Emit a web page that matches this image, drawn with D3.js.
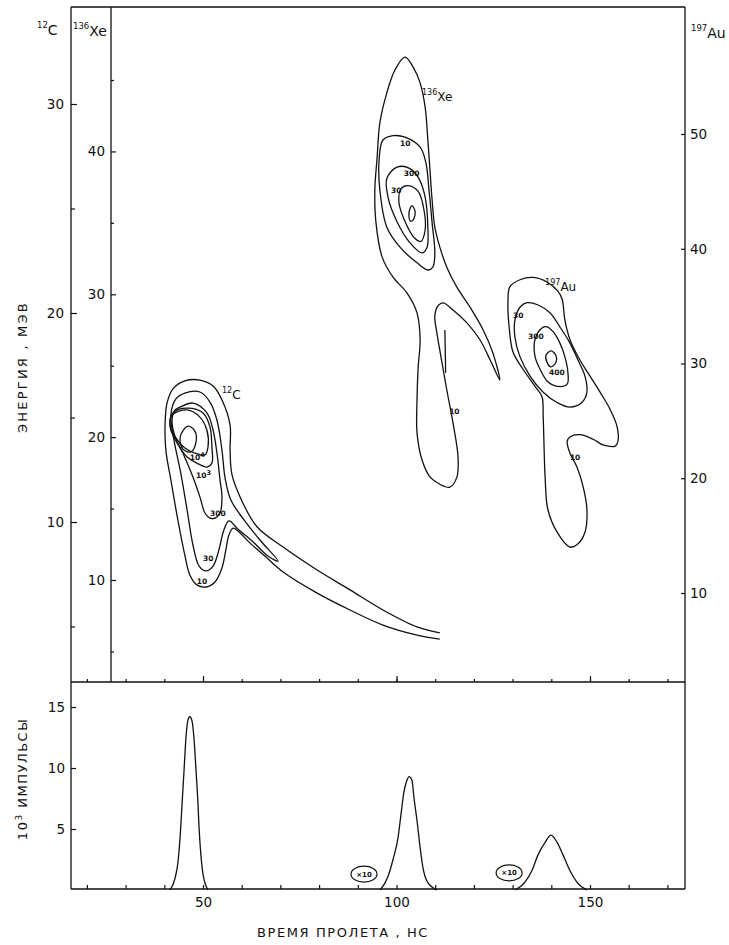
<!DOCTYPE html>
<html><head><meta charset="utf-8">
<script src="https://cdn.jsdelivr.net/npm/d3@7"></script>
<style>
body{margin:0;background:#fff;}
svg text{font-family:"DejaVu Sans",sans-serif;fill:#111;}
</style></head><body>
<svg id="chart" width="729" height="945"></svg>
<script>
// ---------- data ----------
const cTicks = [10, 20, 30];
const cMinor = [5, 15, 25];
const xeTicks = [10, 20, 30, 40];
const xeMinor = [5, 15, 25, 35, 45];
const auTicks = [10, 20, 30, 40, 50];
const timeLabels = [50, 100, 150];
const timeTicks = [20, 30, 40, 50, 60, 70, 80, 90, 100, 110, 120, 130, 140, 150, 160, 170];
const countTicks = [5, 10, 15];

// contour lines: [time ns, energy MeV] (each on its own isotope's energy scale)
const c10 = [[111.2,4.69],[105.3,4.98],[96.5,5.79],[88.0,6.75],[79.5,7.70],[70.7,8.80],[64.0,9.76],[60.3,10.91],[57.5,12.25],[57.0,13.44],[57.0,14.64],[54.9,15.84],[52.6,16.51],[49.2,16.79],[45.3,16.75],[42.2,16.36],[40.7,15.69],[40.2,14.64],[40.4,13.44],[41.7,12.01],[43.5,10.10],[45.3,8.42],[46.6,7.46],[48.4,6.99],[50.8,6.89],[53.1,7.13],[54.9,7.80],[55.9,8.66],[56.7,9.38],[57.8,9.71],[59.6,9.47],[62.1,9.00],[66.0,8.37],[70.7,7.61],[79.5,6.60],[88.0,5.79],[96.5,5.07],[105.3,4.59],[111.2,4.40]];
const c30 = [[45.3,16.17],[49.2,16.22],[51.8,15.74],[53.6,14.88],[54.9,13.44],[55.7,12.11],[57.2,11.05],[60.6,10.10],[64.7,9.14],[69.4,8.13],[66.8,8.37],[62.7,9.09],[59.0,9.67],[56.7,10.05],[55.4,9.62],[54.1,8.66],[52.6,7.89],[50.8,7.66],[49.0,7.89],[47.4,8.90],[45.9,10.57],[44.1,12.49],[42.5,13.92],[41.7,15.12],[43.0,15.89]];
const c300 = [[44.1,15.50],[47.4,15.69],[51.0,15.22],[52.6,14.40],[53.6,13.30],[54.4,12.01],[54.9,11.20],[54.4,10.43],[53.1,10.19],[51.8,10.19],[50.5,10.43],[49.2,11.20],[47.4,12.15],[44.8,13.30],[42.8,14.07],[42.0,14.88],[42.8,15.36]];
const c1e3 = [[42.2,15.22],[45.9,15.45],[50.0,15.22],[51.8,14.55],[52.3,13.59],[52.3,12.82],[51.0,12.63],[48.4,12.82],[45.9,13.11],[43.3,13.78],[41.5,14.55]];
const c1e4 = [[42.0,15.12],[45.9,15.36],[49.2,15.02],[51.0,14.40],[51.3,13.59],[50.5,13.21],[47.9,13.30],[45.3,13.54],[42.8,14.07],[41.5,14.64]];
const cCore = [[46.1,14.59],[47.9,14.35],[48.2,13.83],[46.9,13.35],[44.8,13.49],[44.1,14.07]];

const xe10 = [[102.2,46.6],[104.3,45.9],[106.1,44.8],[107.4,43.1],[108.1,40.8],[108.7,38.5],[109.2,36.6],[109.9,34.7],[111.2,33.3],[113.0,31.9],[115.6,30.5],[119.0,29.1],[122.4,27.5],[124.9,25.9],[126.7,24.0],[124.2,25.4],[121.6,26.8],[118.2,28.0],[114.6,28.9],[112.0,29.4],[110.5,29.1],[109.9,28.4],[110.5,27.2],[111.5,25.6],[113.0,23.3],[114.6,21.0],[115.9,18.6],[115.6,17.2],[113.8,16.5],[111.2,16.7],[108.7,17.2],[106.6,18.4],[105.3,20.3],[105.3,22.6],[105.6,24.9],[106.1,26.8],[105.3,28.7],[102.7,30.1],[99.1,31.2],[96.3,32.6],[94.7,35.0],[94.4,37.3],[95.0,39.6],[95.7,42.0],[97.5,44.1],[99.6,45.7]];
const xeStem = [[112.5,27.5],[112.6,26.0],[112.7,24.5]];
const xe30 = [[96.5,40.8],[99.1,41.1],[102.2,41.0],[106.1,40.3],[107.6,39.2],[108.4,37.3],[109.2,35.0],[109.9,32.9],[109.4,31.9],[108.1,31.7],[105.3,32.2],[100.9,33.3],[97.5,34.7],[95.7,37.3],[95.5,39.4]];
const xe300 = [[100.1,38.9],[103.5,38.8],[105.8,38.1],[107.4,36.8],[108.1,34.7],[107.9,33.3],[106.6,32.9],[103.5,33.6],[100.1,35.1],[97.8,36.8],[97.5,38.1]];
const xe3000 = [[103.0,37.6],[105.6,37.2],[107.1,35.9],[107.4,34.5],[106.3,33.7],[104.8,33.9],[102.2,35.1],[100.6,36.5],[101.2,37.4]];
const xeCore = [[104.0,36.2],[104.8,35.8],[104.5,35.3],[103.7,35.1],[103.2,35.5],[103.5,36.0]];

const au10 = [[129.3,36.7],[128.8,35.3],[129.1,33.2],[130.1,31.0],[132.7,29.5],[135.8,28.0],[137.6,27.1],[137.9,25.4],[138.1,23.1],[138.4,20.1],[139.1,17.3],[141.5,15.3],[144.8,14.0],[146.6,14.2],[148.7,15.3],[149.2,17.3],[148.2,19.3],[146.6,21.0],[144.8,22.2],[144.1,23.2],[144.8,23.6],[147.4,23.8],[150.8,23.4],[153.4,22.9],[156.5,22.8],[157.2,23.2],[157.0,24.5],[155.2,26.0],[152.6,27.5],[150.0,28.9],[147.4,30.3],[144.8,32.1],[143.5,33.8],[142.8,35.6],[141.7,36.3],[138.9,37.1],[135.3,37.5],[131.9,37.3]];
const au30 = [[131.9,34.9],[130.6,33.8],[130.6,32.3],[131.9,30.6],[134.5,28.9],[137.9,27.5],[141.5,26.6],[144.8,26.2],[147.9,26.6],[149.2,27.5],[148.7,28.9],[146.9,30.3],[144.8,31.8],[142.2,33.2],[139.7,34.4],[136.6,35.1],[133.7,35.3]];
const au300 = [[137.6,33.1],[135.8,32.1],[135.8,30.6],[137.1,29.5],[139.1,28.4],[141.7,28.0],[144.1,28.2],[144.3,29.2],[143.5,30.6],[142.2,31.8],[140.4,32.8],[138.9,33.2]];
const au400 = [[139.9,31.1],[141.2,30.7],[141.2,30.1],[139.9,29.7],[138.9,30.1],[138.6,30.7]];

// time-of-flight spectra: [time ns, 10^3 counts]
const peakC = [[41.5,0.0],[42.8,1.0],[43.5,2.2],[44.1,4.4],[44.6,7.1],[45.1,9.8],[45.6,12.5],[46.1,13.9],[46.6,14.2],[47.2,13.8],[47.7,12.3],[48.2,9.8],[48.7,7.1],[49.0,5.0],[49.5,2.7],[50.0,1.3],[51.3,0.0]];
const peakXe = [[95.8,0.0],[97.8,1.1],[99.1,2.5],[100.4,4.3],[101.2,6.3],[101.9,8.0],[102.7,9.0],[103.2,9.3],[104.0,9.0],[104.5,7.6],[105.3,5.7],[106.1,3.5],[106.8,1.9],[108.1,0.6],[110.5,0.0]];
const peakAu = [[130.6,0.0],[133.2,0.65],[135.0,1.6],[136.6,2.9],[138.4,3.9],[139.9,4.5],[141.5,3.9],[143.0,2.9],[144.8,1.6],[146.6,0.65],[149.2,0.0]];
const scaleMarks = [[91.6,1.3,"×10"],[129.1,1.4,"×10"]];

// contour annotations: [text, superscript, time, energy, scale]
const contourLabels = [
  ["10","4",46.6,12.97,"c"],["10","3",48.2,12.11,"c"],["300","",51.8,10.29,"c"],["30","",50.0,8.13,"c"],["10","",48.4,7.03,"c"],
  ["10","",100.9,40.4,"xe"],["300","",101.9,38.3,"xe"],["30","",98.6,37.1,"xe"],["10","",113.6,21.6,"xe"],
  ["30","",130.1,34.0,"au"],["300","",134.0,32.1,"au"],["400","",139.4,29.0,"au"],["10","",144.8,21.6,"au"]
];
const isotopeLabels = [["12","C",54.9,15.93,"c"],["136","Xe",106.6,43.6,"xe"],["197","Au",138.4,36.4,"au"]];

// ---------- layout ----------
const L_OUT = 71, L_IN = 111, R = 685, TOP = 7, MID = 682, BOT = 889;
const ink = "#111";

const x = d3.scaleLinear().domain([50,150]).range([203,590]);
const yC = d3.scaleLinear().domain([10,30]).range([522,104]);
const yXe = d3.scaleLinear().domain([10,45]).range([580,80]);
const yAu = d3.scaleLinear().domain([10,50]).range([593,134]);
const yN = d3.scaleLinear().domain([0,15]).range([890,707]);
const yS = {c:yC, xe:yXe, au:yAu};

const svg = d3.select("#chart");

// frame
[[L_OUT,TOP,L_OUT,BOT],[L_IN,TOP,L_IN,MID],[R,TOP,R,BOT],[L_OUT,TOP,R,TOP],[L_OUT,MID,R,MID],[L_OUT,BOT,R,BOT]].forEach(s=>{
  svg.append("line").attr("x1",s[0]).attr("y1",s[1]).attr("x2",s[2]).attr("y2",s[3]).attr("stroke",ink).attr("stroke-width",1.3);
});

function styleAxis(g, fs){
  g.select(".domain").remove();
  g.selectAll(".tick line").attr("stroke",ink).attr("stroke-width",1.2);
  g.selectAll(".tick text").attr("font-size",fs).attr("fill",ink);
}
// energy axes
styleAxis(svg.append("g").attr("transform",`translate(${L_OUT},0)`).call(d3.axisLeft(yC).tickValues(cTicks).tickSizeInner(-6).tickSizeOuter(0).tickPadding(7)),13.5);
styleAxis(svg.append("g").attr("transform",`translate(${L_OUT},0)`).call(d3.axisLeft(yC).tickValues(cMinor).tickSizeInner(-4).tickSizeOuter(0).tickFormat("")),13.5);
styleAxis(svg.append("g").attr("transform",`translate(${L_IN},0)`).call(d3.axisLeft(yXe).tickValues(xeTicks).tickSizeInner(-5).tickSizeOuter(0).tickPadding(6)),13.5);
styleAxis(svg.append("g").attr("transform",`translate(${L_IN},0)`).call(d3.axisLeft(yXe).tickValues(xeMinor).tickSizeInner(-3).tickSizeOuter(0).tickFormat("")),13.5);
styleAxis(svg.append("g").attr("transform",`translate(${R},0)`).call(d3.axisRight(yAu).tickValues(auTicks).tickSizeInner(-4).tickSizeOuter(0).tickPadding(5)),13.5);
// time axes
styleAxis(svg.append("g").attr("transform",`translate(0,${MID})`).call(d3.axisBottom(x).tickValues(timeTicks).tickSizeInner(-3).tickSizeOuter(0).tickFormat("")),13);
styleAxis(svg.append("g").attr("transform",`translate(0,${MID})`).call(d3.axisBottom(x).tickValues(timeLabels).tickSizeInner(-6).tickSizeOuter(0).tickFormat("")),13);
styleAxis(svg.append("g").attr("transform",`translate(0,${BOT})`).call(d3.axisBottom(x).tickValues(timeTicks).tickSizeInner(-4).tickSizeOuter(0).tickPadding(8).tickFormat(d=>timeLabels.includes(d)?d:"")),13.5);
// counts axis
styleAxis(svg.append("g").attr("transform",`translate(${L_OUT},0)`).call(d3.axisLeft(yN).tickValues(countTicks).tickSizeInner(-5).tickSizeOuter(0).tickPadding(6)),13.5);

// contours
function contour(pts, ys, closed){
  const ln = d3.line().x(d=>x(d[0])).y(d=>ys(d[1])).curve(closed?d3.curveCatmullRomClosed.alpha(0.5):d3.curveCatmullRom.alpha(0.5));
  svg.append("path").attr("d",ln(pts)).attr("fill","none").attr("stroke",ink).attr("stroke-width",1.3).attr("stroke-linejoin","round");
}
contour(c10,yC,false); contour(c30,yC,true); contour(c300,yC,true); contour(c1e3,yC,true); contour(c1e4,yC,true); contour(cCore,yC,true);
contour(xe10,yXe,true); contour(xeStem,yXe,false); contour(xe30,yXe,true); contour(xe300,yXe,true); contour(xe3000,yXe,true); contour(xeCore,yXe,true);
contour(au10,yAu,true); contour(au30,yAu,true); contour(au300,yAu,true); contour(au400,yAu,true);

// contour labels
contourLabels.forEach(l=>{
  const t = svg.append("text").attr("x",x(l[2])).attr("y",yS[l[4]](l[3])).attr("font-size",7.5).attr("font-weight","bold");
  t.append("tspan").text(l[0]);
  if(l[1]) t.append("tspan").attr("dy",-3).attr("font-size",6.5).text(l[1]);
});
isotopeLabels.forEach(l=>{
  const t = svg.append("text").attr("x",x(l[2])).attr("y",yS[l[4]](l[3])).attr("font-size",12);
  t.append("tspan").attr("font-size",8).attr("dy",-5).text(l[0]);
  t.append("tspan").attr("dy",6).text(l[1]);
});

// spectra
[peakC,peakXe,peakAu].forEach(p=>{
  svg.append("path").attr("d",d3.line().x(d=>x(d[0])).y(d=>yN(d[1])).curve(d3.curveMonotoneX)(p))
    .attr("fill","none").attr("stroke",ink).attr("stroke-width",1.3);
});
scaleMarks.forEach(m=>{
  svg.append("ellipse").attr("cx",x(m[0])).attr("cy",yN(m[1])).attr("rx",13).attr("ry",8).attr("fill","none").attr("stroke",ink).attr("stroke-width",1.2);
  svg.append("text").attr("x",x(m[0])).attr("y",yN(m[1])+2.5).attr("text-anchor","middle").attr("font-size",7).attr("font-weight","bold").text(m[2]);
});

// corner isotope captions
const cap = (xp,yp,sup,main)=>{
  const t = svg.append("text").attr("x",xp).attr("y",yp).attr("font-size",14);
  t.append("tspan").attr("font-size",8.5).attr("dy",-6).text(sup);
  t.append("tspan").attr("dy",7).text(main);
};
cap(37,34,"12","C");
cap(73,35,"136","Xe");
cap(691,37,"197","Au");

// axis titles
svg.append("text").attr("transform","translate(27,367) rotate(-90)").attr("text-anchor","middle").attr("font-size",13).attr("letter-spacing",2.2).text("ЭНЕРГИЯ , МЭВ");
const yt = svg.append("text").attr("transform","translate(27,779) rotate(-90)").attr("text-anchor","middle").attr("font-size",13).attr("letter-spacing",1.5);
yt.append("tspan").text("10");
yt.append("tspan").attr("dy",-5).attr("font-size",9).text("3");
yt.append("tspan").attr("dy",5).text("  ИМПУЛЬСЫ");
svg.append("text").attr("x",343).attr("y",937).attr("text-anchor","middle").attr("font-size",13).attr("letter-spacing",1.6).text("ВРЕМЯ  ПРОЛЕТА , НС");
</script>
</body></html>
